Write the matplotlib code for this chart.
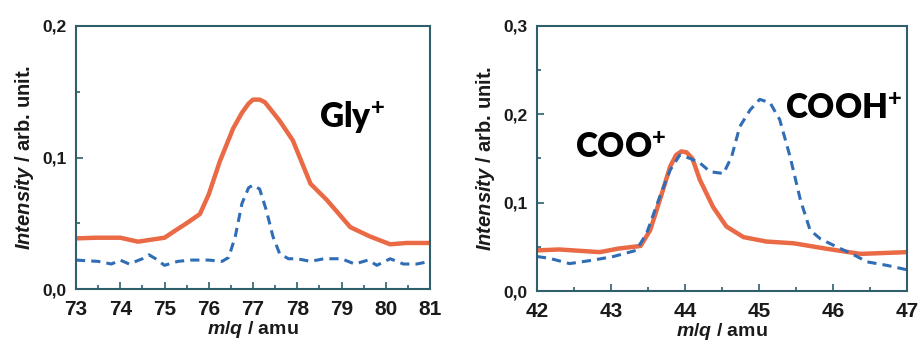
import matplotlib
matplotlib.use("Agg")
import matplotlib.pyplot as plt
from matplotlib.ticker import MultipleLocator, FuncFormatter

plt.rcParams["font.family"] = ["Liberation Sans", "DejaVu Sans"]
plt.rcParams["font.weight"] = "bold"
plt.rcParams["mathtext.fontset"] = "custom"
plt.rcParams["mathtext.it"] = "Liberation Sans:italic:bold"
plt.rcParams["mathtext.rm"] = "Liberation Sans:bold"

# --- left panel (Gly+) ---
gly_solid_x = [73.0, 73.47, 74.0, 74.4, 75.0, 75.27, 75.5, 75.8, 76.0, 76.25, 76.55, 76.75,
               76.9, 77.0, 77.15, 77.27, 77.6, 77.9, 78.3, 78.66, 79.2, 79.64, 80.1, 80.47, 81.0]
gly_solid_y = [0.0385, 0.039, 0.039, 0.036, 0.039, 0.045, 0.050, 0.057, 0.072, 0.097, 0.122, 0.134,
               0.141, 0.144, 0.144, 0.142, 0.128, 0.113, 0.080, 0.068, 0.047, 0.040, 0.034, 0.035, 0.035]

gly_dash_x = [73.0, 73.5, 73.8, 74.0, 74.2, 74.5, 74.65, 74.8, 75.0, 75.3, 75.6, 76.0,
              76.3, 76.45, 76.6, 76.75, 76.9, 77.0, 77.15, 77.3, 77.45, 77.6, 77.8, 78.0,
              78.3, 78.6, 79.0, 79.3, 79.6, 79.8, 80.1, 80.4, 80.7, 81.0]
gly_dash_y = [0.022, 0.021, 0.019, 0.022, 0.019, 0.023, 0.026, 0.023, 0.018, 0.021, 0.022, 0.022,
              0.021, 0.024, 0.040, 0.065, 0.077, 0.079, 0.076, 0.060, 0.040, 0.027, 0.023, 0.023,
              0.021, 0.023, 0.023, 0.019, 0.022, 0.018, 0.023, 0.019, 0.019, 0.021]

# --- right panel (COO+ / COOH+) ---
coo_solid_x = [42.0, 42.3, 42.85, 43.1, 43.4, 43.53, 43.66, 43.8, 43.88, 43.95, 44.02, 44.1,
               44.2, 44.38, 44.56, 44.79, 45.1, 45.47, 45.9, 46.37, 47.0]
coo_solid_y = [0.046, 0.047, 0.044, 0.048, 0.051, 0.069, 0.103, 0.141, 0.154, 0.158, 0.157, 0.150,
               0.126, 0.095, 0.073, 0.061, 0.056, 0.054, 0.048, 0.042, 0.044]

coo_dash_x = [42.0, 42.17, 42.44, 42.76, 43.03, 43.34, 43.48, 43.66, 43.8, 43.93, 44.07,
              44.2, 44.34, 44.52, 44.63, 44.74, 44.88, 45.01, 45.15, 45.28, 45.42, 45.56,
              45.69, 45.83, 46.05, 46.28, 46.46, 46.73, 47.0]
coo_dash_y = [0.039, 0.037, 0.031, 0.035, 0.039, 0.046, 0.065, 0.107, 0.137, 0.154, 0.150,
              0.145, 0.135, 0.133, 0.152, 0.186, 0.205, 0.217, 0.213, 0.194, 0.152, 0.103,
              0.069, 0.059, 0.050, 0.041, 0.033, 0.029, 0.024]

ORANGE = "#ea6a45"
BLUE = "#2f6db5"
SPINE = "#2f5f6c"
TXT = "#1a1a1a"

fig = plt.figure(figsize=(9.2, 3.42), dpi=100)
ax1 = fig.add_axes([76 / 920, 1 - 289 / 342, (430 - 76) / 920, (289 - 26) / 342])
ax2 = fig.add_axes([537 / 920, 1 - 291 / 342, (907 - 537) / 920, (291 - 26) / 342])

comma = FuncFormatter(lambda v, p: f"{v:.1f}".replace(".", ","))


def style(ax, xlim, ylim, ymaj):
    ax.set_xlim(*xlim)
    ax.set_ylim(*ylim)
    ax.xaxis.set_major_locator(MultipleLocator(1))
    ax.xaxis.set_minor_locator(MultipleLocator(0.5))
    ax.yaxis.set_major_locator(MultipleLocator(ymaj))
    ax.yaxis.set_minor_locator(MultipleLocator(ymaj / 2))
    ax.yaxis.set_major_formatter(comma)
    for s in ax.spines.values():
        s.set_color(SPINE)
        s.set_linewidth(1.5)
    ax.tick_params(which="both", direction="in", color=SPINE, width=1.2)
    ax.tick_params(which="major", length=5)
    ax.tick_params(which="minor", length=3)
    ax.tick_params(axis="x", labelsize=15, pad=8, labelcolor=TXT)
    ax.tick_params(axis="y", labelsize=12.5, pad=7, labelcolor=TXT)
    for lab in ax.get_xticklabels() + ax.get_yticklabels():
        lab.set_fontweight("bold")
    ax.set_xlabel(r"$m/q$ / amu", fontsize=14, fontweight="bold", color=TXT, labelpad=0)
    ax.set_ylabel(r"$Intensity$ / arb. unit.", fontsize=14.5, fontweight="bold", color=TXT, labelpad=4)


ax1.plot(gly_solid_x, gly_solid_y, color=ORANGE, lw=3.2)
ax1.plot(gly_dash_x, gly_dash_y, color=BLUE, lw=2.2, ls=(0, (3, 2)))
style(ax1, (73, 81), (0, 0.2), 0.1)
ax1.text(78.5, 0.13, r"Gly$^{+}$", fontsize=24, fontweight="heavy", va="center",
         color="black", family=["Lato", "DejaVu Sans"])

ax2.plot(coo_solid_x, coo_solid_y, color=ORANGE, lw=3.2)
ax2.plot(coo_dash_x, coo_dash_y, color=BLUE, lw=2.2, ls=(0, (3, 2)))
style(ax2, (42, 47), (0, 0.3), 0.1)
ax2.text(42.51, 0.162, r"COO$^{+}$", fontsize=24, fontweight="heavy", va="center",
         color="black", family=["Lato", "DejaVu Sans"])
ax2.text(45.35, 0.206, r"COOH$^{+}$", fontsize=24, fontweight="heavy", va="center",
         color="black", family=["Lato", "DejaVu Sans"])

fig.savefig("out.png", dpi=100)
